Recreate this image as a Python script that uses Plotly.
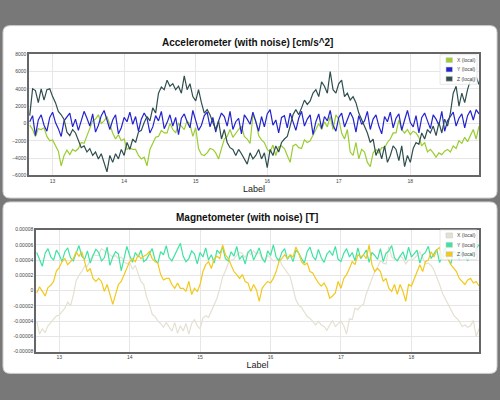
import plotly.graph_objects as go

# ---------------- data ----------------
START = 12.68
STEP = 0.04
N = 158
LABEL = [round(START + STEP * i, 2) for i in range(N)]

ACC_X = [-200, -700, -1500, -600, -700, -500, -1500, -2000, -1900, -2600,
         -3200, -4900, -3700, -3100, -3600, -3000, -3200, -2900, -2200, -2300,
         -1400, -500, 300, 500, 1000, 0, 300, 800, -300, -1100,
         -1800, -1300, -2000, -1800, -3000, -2800, -3000, -3000, -3700, -4100,
         -3900, -4900, -3000, -2200, -1600, -1500, -800, -1100, -1100, 0,
         -700, -1100, 0, -300, -700, 300, -100, -1500, -500, -2900,
         -3600, -3700, -3400, -2900, -3000, -3400, -4100, -2900, -1800, -1500,
         -700, -1600, -1100, -700, -300, -1500, -1800, -2300, 1000, 300,
         -1400, -1900, -2200, -3000, -3300, -2500, -3700, -2700, -2600, -2900,
         -3700, -4500, -2600, -2400, -2800, -2900, -1900, -2200, -2000, -1400,
         -700, 0, -700, 200, -400, 800, -700, 1000, 500, -1100,
         -1800, -700, -3300, -3700, -2200, -4100, -3000, -3300, -4500, -5000,
         -3400, -3000, -3400, -2800, -2800, -2200, -1800, -1100, -1100, 400,
         -700, -1100, -700, -1300, -900, -1100, -1600, -2600, -2200, -3300,
         -3000, -3400, -3900, -3400, -3600, -3200, -3000, -3300, -2600, -2900,
         -2000, -2300, -1600, -2100, -1400, -700, -1800, -300]

ACC_Y = [200, 900, -1400, 400, 1000, -200, -900, 700, 1300, 100,
         -600, -1500, 300, 800, 1200, -400, 500, -800, 200, 1400,
         600, -300, 1100, -1000, -200, 900, 1500, 300, -700, 400,
         1000, -1200, -500, 700, 200, 1300, -100, 800, -900, 500,
         1200, 600, -1100, -400, 900, 300, 1400, -600, 100, 1000,
         -300, 700, -1300, 600, 1100, 200, -500, 1500, 400, -800,
         -200, 900, 1300, -400, 700, -1000, 300, 1200, 800, -300,
         1400, -700, 200, 600, -1200, 1000, 500, -100, 1300, 300,
         -900, 800, -400, 1100, 1600, -200, 400, -1100, 700, 900,
         -500, 1200, 100, -800, 600, 1400, -300, 500, 1000, -1300,
         200, 1100, -600, 800, 300, 1500, -200, -900, 700, 1200,
         -400, 400, 1300, 600, -1000, 900, -100, 300, 1400, -700,
         500, 1000, -300, -1200, 800, 200, 1300, -500, 600, 1100,
         -800, 400, 1500, 100, -400, 900, -1100, 700, 1200, 300,
         -600, 1000, 500, -200, 1400, -900, 300, 800, 1300, -300,
         600, 1100, -500, 900, 1500, 400, 1600, 1100]

ACC_Z = [900, 4000, 3800, 2400, 4000, 2700, 3900, 4000, 3100, 2400,
         1400, 1000, 460, -1000, -1400, -700, -1100, -2000, -2800, -2600,
         -3300, -2900, -3700, -3300, -4100, -3500, -4700, -5600, -3700, -4500,
         -3500, -4100, -3000, -3700, -2200, -3000, -1800, -2200, -1000, -800,
         100, 800, 300, 1800, 1200, 3500, 4200, 3900, 5000, 4300,
         4600, 3900, 4300, 3500, 5500, 3900, 4600, 3100, 2600, 3900,
         2400, 1200, 1600, 1000, 100, -700, 300, -1800, -700, -2200,
         -2800, -3000, -3700, -3000, -3500, -4100, -4700, -3400, -4100, -3700,
         -3000, -4100, -3400, -5100, -3000, -3700, -2600, -3300, -2200, -1800,
         -1500, -300, 1000, 1600, 1000, 1800, 2700, 2200, 2600, 3500,
         3900, 3100, 4800, 4300, 3500, 6000, 3900, 3500, 4600, 5000,
         3100, 3500, 2700, 3100, 2400, 1200, 500, -300, -1100, -2200,
         -1800, -3700, -2900, -4100, -2600, -4500, -3700, -2600, -3000, -4300,
         -2600, -5000, -3700, -4500, -2900, -2200, -2400, -1100, -1800, -700,
         -1100, -300, -1400, 100, -1100, 500, -300, 1200, 3500, 4300,
         2000, 3500, 2400, 3900, 5000, 4800, 5400, 4500]

# magnetometer values in units of 1e-5 T
MAG_X_E5 = [-4.0, -5.7, -5.0, -5.5, -4.6, -4.2, -3.8, -3.3, -3.2, -2.8,
            -2.3, -1.5, -2.0, -0.6, 1.3, 2.0, 2.5, 3.2, 3.2, 4.0,
            4.7, 4.6, 4.6, 5.5, 5.2, 4.9, 4.6, 4.4, 4.6, 4.2,
            4.4, 3.8, 3.5, 3.7, 2.8, 3.3, 2.2, 1.2, 0.8, -0.8,
            -1.8, -3.1, -3.4, -4.0, -4.3, -4.8, -4.2, -4.7, -5.3, -4.2,
            -5.6, -4.6, -5.3, -4.3, -5.7, -4.3, -3.8, -4.6, -5.0, -3.6,
            -3.3, -3.5, -2.6, -1.8, -1.0, 0.3, 1.8, 2.6, 3.6, 4.0,
            4.1, 4.6, 5.0, 4.9, 4.3, 5.1, 4.7, 5.2, 4.8, 5.0,
            4.1, 3.8, 4.6, 4.3, 3.9, 4.0, 4.2, 3.4, 2.9, 2.4,
            1.8, 0.3, -1.2, -1.9, -2.2, -2.8, -3.4, -3.6, -4.1, -4.5,
            -4.0, -4.5, -4.7, -5.2, -4.5, -3.9, -4.7, -4.3, -4.0, -4.6,
            -5.7, -3.7, -3.8, -2.3, -2.5, -2.0, -1.8, -0.4, 0.6, 1.6,
            2.5, 3.1, 3.9, 3.6, 3.5, 5.8, 4.4, 4.1, 4.0, 4.6,
            4.2, 3.5, 4.0, 4.0, 4.2, 4.6, 5.1, 4.3, 3.5, 3.6,
            3.3, 2.7, 1.8, 0.8, -0.3, -1.0, -1.9, -2.6, -3.2, -3.6,
            -4.0, -4.7, -4.5, -4.8, -4.6, -3.9, -6.0, -5.0]

MAG_Y_E5 = [5.0, 4.2, 3.2, 4.9, 5.5, 4.4, 4.0, 5.3, 4.7, 3.8,
            5.1, 5.6, 4.3, 3.9, 4.8, 5.9, 4.5, 4.1, 5.2, 3.6,
            4.6, 5.4, 5.0, 3.9, 4.3, 5.7, 3.3, 4.4, 5.1, 4.8,
            2.6, 4.2, 5.8, 4.6, 3.7, 5.0, 4.4, 5.3, 3.8, 4.1,
            4.9, 5.5, 4.0, 3.6, 5.1, 4.7, 5.9, 4.3, 3.9, 4.6,
            5.4, 6.2, 4.5, 3.8, 4.2, 5.2, 4.8, 3.5, 5.0, 4.4,
            5.6, 4.0, 4.7, 3.6, 5.3, 4.9, 5.7, 4.2, 3.9, 5.1,
            4.5, 5.8, 4.1, 4.6, 3.5, 5.0, 5.4, 4.0, 4.8, 5.6,
            4.3, 3.7, 5.2, 4.6, 6.0, 4.4, 3.9, 5.0, 5.5, 4.1,
            4.7, 3.8, 5.3, 4.9, 4.2, 3.6, 5.1, 5.7, 4.5, 4.0,
            5.4, 4.3, 3.7, 4.8, 5.2, 4.6, 5.8, 4.1, 3.8, 4.9,
            5.5, 4.4, 5.0, 3.9, 5.6, 4.2, 4.7, 5.3, 3.7, 5.0,
            4.6, 4.1, 5.5, 3.8, 4.9, 5.2, 5.9, 4.3, 3.9, 4.5,
            5.1, 4.0, 5.7, 4.4, 4.8, 5.3, 3.6, 4.7, 5.0, 5.8,
            4.2, 4.9, 5.4, 3.7, 4.5, 5.6, 4.1, 3.5, 5.2, 4.8,
            4.0, 5.3, 4.6, 3.9, 5.0, 4.4, 5.5, 6.0]

MAG_Z_E5 = [-0.3, 0.5, -0.1, -0.7, 0.4, 0.7, 1.2, 2.6, 3.0, 3.8,
            4.2, 3.4, 3.8, 4.2, 5.1, 4.5, 5.1, 3.8, 2.5, 2.9,
            1.6, 1.2, 1.6, 1.2, -0.1, 0.8, -0.7, -1.8, -0.5, 0.8,
            1.2, 2.1, 2.9, 3.8, 4.2, 3.8, 4.7, 4.2, 4.5, 4.7,
            5.1, 4.2, 3.8, 3.6, 2.1, 1.4, 1.6, 1.6, 0.8, 0.3,
            1.0, 0.3, 0.3, -0.1, 1.2, -0.5, 0.3, -0.1, 0.8, 2.5,
            3.4, 3.8, 2.9, 4.2, 4.5, 4.2, 6.0, 4.7, 4.2, 3.4,
            2.5, 2.1, 1.6, 2.1, 1.2, 1.0, -0.1, 0.8, 0.1, -1.4,
            0.3, 0.8, 1.2, 1.0, 1.6, 2.5, 3.8, 4.2, 4.7, 4.2,
            4.7, 4.4, 5.7, 4.9, 3.8, 3.4, 3.6, 2.5, 2.3, 1.6,
            1.0, 0.6, 1.0, 0.3, -1.0, -0.7, -0.3, 1.2, 0.3, 1.6,
            2.1, 2.9, 3.8, 3.4, 4.7, 4.4, 4.7, 4.2, 6.0, 3.4,
            2.5, 2.9, 2.5, 1.2, 1.6, 0.3, -0.1, 0.8, -0.5, 0.8,
            -0.1, -1.4, 0.8, 0.6, 1.6, 2.5, 3.4, 2.5, 3.8, 4.0,
            5.1, 4.4, 5.3, 5.7, 4.2, 4.7, 4.2, 3.4, 2.9, 2.5,
            1.6, 1.2, 0.8, 1.4, 1.6, 1.0, 1.2, 0.6]

MAG_X = [v * 1e-5 for v in MAG_X_E5]
MAG_Y = [v * 1e-5 for v in MAG_Y_E5]
MAG_Z = [v * 1e-5 for v in MAG_Z_E5]

SERIES_NAMES = ["X (local)", "Y (local)", "Z (local)"]
ACC_COLORS = ["#9acd32", "#2323cf", "#2f4f4f"]
MAG_COLORS = ["#e4e0d2", "#3ee3a2", "#f2c81c"]
ACC_TICKS = [-6000, -4000, -2000, 0, 2000, 4000, 6000, 8000]
MAG_TICKS = [-8e-5, -6e-5, -4e-5, -2e-5, 0, 2e-5, 4e-5, 6e-5, 8e-5]
MAG_TICK_TEXT = ["-0.00008", "-0.00006", "-0.00004", "-0.00002", "0",
                 "0.00002", "0.00004", "0.00006", "0.00008"]
X_TICKS = [13, 14, 15, 16, 17, 18]

W, H = 500, 400
FONT = "Liberation Sans, Arial, sans-serif"


def px(x):
    return x / W


def py(y):
    return 1 - y / H


fig = go.Figure()

for name, ys, col in zip(SERIES_NAMES, [ACC_X, ACC_Y, ACC_Z], ACC_COLORS):
    fig.add_trace(go.Scatter(x=LABEL, y=ys, name=name, mode="lines",
                             line=dict(color=col, width=1.2),
                             xaxis="x", yaxis="y", showlegend=False))
for name, ys, col in zip(SERIES_NAMES, [MAG_X, MAG_Y, MAG_Z], MAG_COLORS):
    fig.add_trace(go.Scatter(x=LABEL, y=ys, name=name, mode="lines",
                             line=dict(color=col, width=1.2),
                             xaxis="x2", yaxis="y2", showlegend=False))

axis_common = dict(showgrid=True, gridcolor="#e6e6e6", gridwidth=1,
                   showline=True, mirror=True, linecolor="#666666", linewidth=1.5,
                   zeroline=False, ticks="", tickfont=dict(size=5, color="#444", family=FONT))

fig.update_layout(
    width=W, height=H,
    margin=dict(l=0, r=0, t=0, b=0),
    paper_bgcolor="#787878",
    plot_bgcolor="white",
    font=dict(family=FONT),
    showlegend=False,
    xaxis=dict(domain=[px(29), px(479)], anchor="y", range=[12.67, 18.96],
               tickvals=X_TICKS,
               title=dict(text="Label", font=dict(size=9, color="#222"), standoff=1),
               **axis_common),
    yaxis=dict(domain=[py(175), py(52)], anchor="x", range=[-6000, 8000],
               tickvals=ACC_TICKS, tickformat="d", **axis_common),
    xaxis2=dict(domain=[px(36), px(479)], anchor="y2", range=[12.67, 18.96],
                tickvals=X_TICKS,
                title=dict(text="Label", font=dict(size=9, color="#222"), standoff=2),
                **axis_common),
    yaxis2=dict(domain=[py(354), py(230)], anchor="x2", range=[-8e-5, 8e-5],
                tickvals=MAG_TICKS, ticktext=MAG_TICK_TEXT, **axis_common),
)


def rounded_rect(x0, y0, x1, y1, r):
    rx, ry = r / W, r / H
    X0, X1 = px(x0), px(x1)
    Y0, Y1 = py(y1), py(y0)  # bottom, top in paper coords
    return (f"M {X0+rx},{Y0} L {X1-rx},{Y0} Q {X1},{Y0} {X1},{Y0+ry} "
            f"L {X1},{Y1-ry} Q {X1},{Y1} {X1-rx},{Y1} L {X0+rx},{Y1} "
            f"Q {X0},{Y1} {X0},{Y1-ry} L {X0},{Y0+ry} Q {X0},{Y0} {X0+rx},{Y0} Z")


shapes = []
for (y0, y1) in [(23, 198), (202, 376)]:
    shapes.append(dict(type="path", xref="paper", yref="paper", layer="below",
                       path=rounded_rect(3, y0, 497, y1, 7),
                       fillcolor="white", line=dict(color="#d0d0d0", width=1)))

annotations = [
    dict(text="<b>Accelerometer (with noise) [cm/s^2]</b>", x=px(247), y=py(40),
         xref="paper", yref="paper", xanchor="center", yanchor="middle", showarrow=False,
         font=dict(size=10, color="#111", family=FONT)),
    dict(text="<b>Magnetometer (with noise) [T]</b>", x=px(247), y=py(218),
         xref="paper", yref="paper", xanchor="center", yanchor="middle", showarrow=False,
         font=dict(size=10, color="#111", family=FONT)),
]

# custom legends (box + text) for each panel
for top, colors in [(55.5, ACC_COLORS), (233.5, MAG_COLORS)]:
    shapes.append(dict(type="rect", xref="paper", yref="paper", layer="above",
                       x0=px(440), x1=px(477), y0=py(top - 3), y1=py(top + 27),
                       fillcolor="rgba(255,255,255,0.85)", line=dict(color="#e2e2e2", width=0.8)))
    for k, (name, col) in enumerate(zip(SERIES_NAMES, colors)):
        yt = top + k * 9.5
        shapes.append(dict(type="rect", xref="paper", yref="paper", layer="above",
                           x0=px(446), x1=px(452.5), y0=py(yt + 5), y1=py(yt),
                           fillcolor=col, line=dict(color="#cccccc", width=0.6)))
        annotations.append(dict(text=name, x=px(455), y=py(yt + 2.5), xref="paper", yref="paper",
                                xanchor="left", yanchor="middle", showarrow=False,
                                font=dict(size=5, color="#444", family=FONT)))

fig.update_layout(shapes=shapes, annotations=annotations)

fig.write_html("out.html", config={"displayModeBar": False},
               post_script="document.body.style.margin='0';document.body.style.overflow='hidden';")
